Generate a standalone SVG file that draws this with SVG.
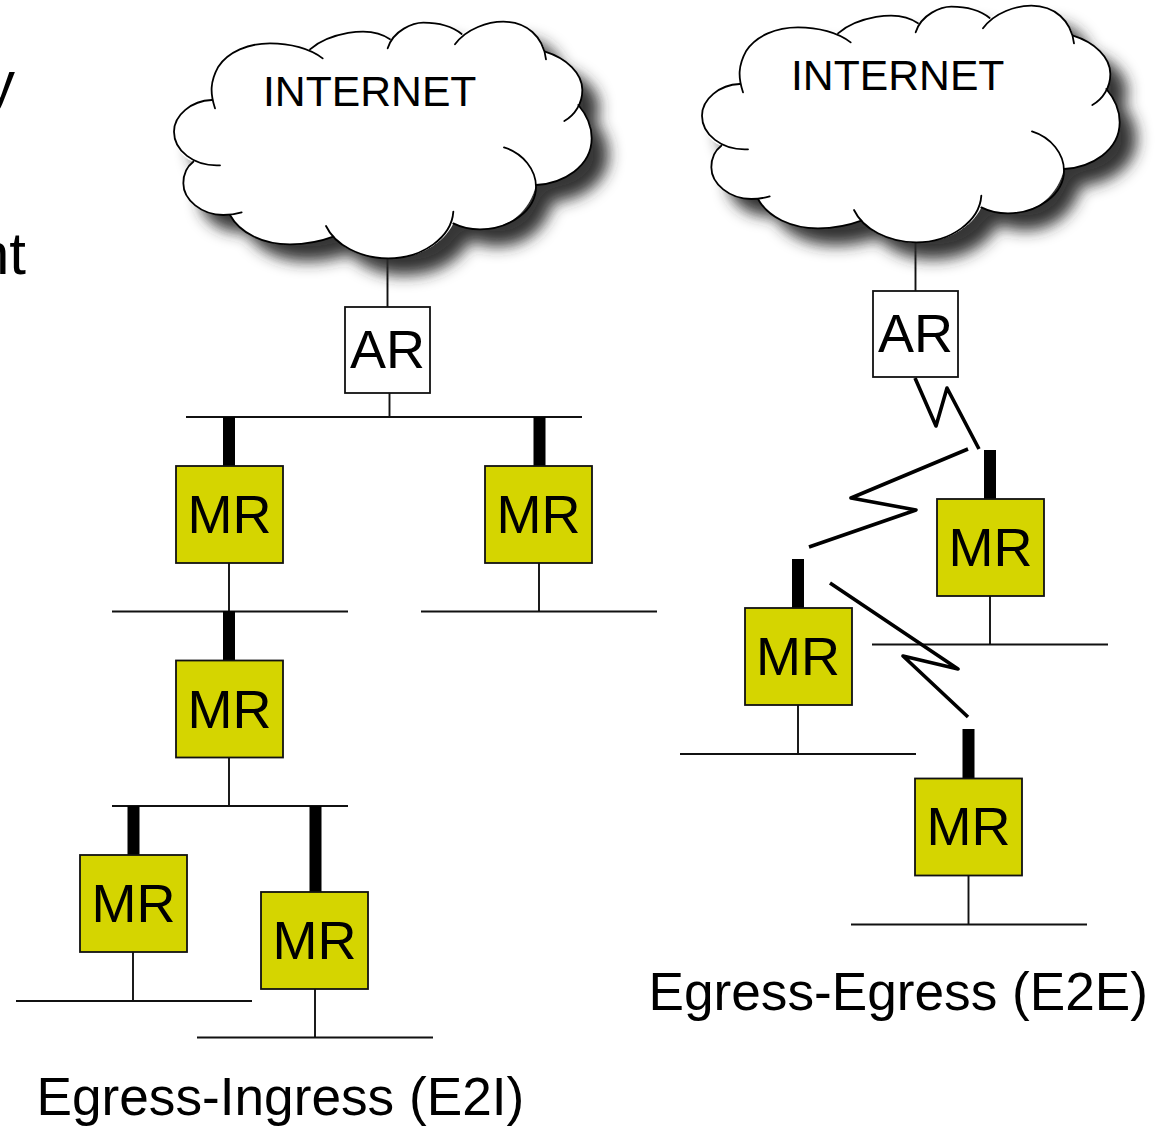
<svg xmlns="http://www.w3.org/2000/svg" width="1167" height="1126" viewBox="0 0 1167 1126">
<style>
text{font-family:"Liberation Sans",Arial,sans-serif;fill:#000}
.big{font-size:53.200px}
.cut{font-size:60px}
.cl{font-size:42.700px}
.box{font-size:54px;text-anchor:middle}
.mr{fill:#d5d500;stroke:#111;stroke-width:1.8}
.ar{fill:#fff;stroke:#111;stroke-width:1.8}
.thin{stroke:#111;stroke-width:1.9;fill:none}
.thick{stroke:#000;stroke-width:12;fill:none}
.zig{stroke:#000;stroke-width:3.600;fill:none;stroke-linejoin:round}
.co{fill:#fff;stroke:none}
.in{fill:none;stroke:#000;stroke-width:5.400;stroke-linecap:round}
</style>
<defs>
<filter id="sh" filterUnits="userSpaceOnUse" x="-80" y="-80" width="1650" height="1050">
<feGaussianBlur in="SourceAlpha" stdDeviation="22" result="b"/>
<feOffset in="b" dx="50" dy="50" result="o"/>
<feFlood flood-color="#2a2a2a" flood-opacity="0.95"/>
<feComposite in2="o" operator="in" result="s"/>
<feMerge><feMergeNode in="s"/><feMergeNode in="SourceGraphic"/></feMerge>
</filter>
<g id="cloud" transform="translate(160 10) scale(0.33333)">
<path class="co" filter="url(#sh)" d="M155 272C150 240 155 210 175 170C205 125 265 100 330 100C380 100 425 108 450 118C500 75 625 40 690 88C715 55 760 38 790 38C840 38 880 52 905 72C945 45 985 35 1030 35C1095 35 1145 75 1155 125C1220 145 1267 190 1267 240C1267 258 1263 272 1255 285C1285 320 1295 350 1295 385C1295 470 1210 520 1128 525C1110 600 1050 658 960 658C930 658 900 650 880 640C850 700 780 745 685 745C610 745 550 715 520 680C480 695 430 703 390 703C310 703 240 670 210 615C205 615 195 615 190 615C125 615 70 570 70 520C70 495 80 470 100 455C60 440 42 400 42 365C42 315 95 272 155 270Z"/>
<path class="in" d="M165 295C150 250 150 215 175 170C205 125 265 100 330 100C390 100 450 115 488 145"/>
<path class="in" d="M450 118C500 75 625 40 690 88"/>
<path class="in" d="M683 115C700 60 760 38 790 38C840 38 880 52 905 72"/>
<path class="in" d="M885 103C920 55 985 35 1030 35C1100 35 1150 80 1158 148"/>
<path class="in" d="M1155 125C1220 145 1267 190 1267 240C1267 280 1245 315 1213 333"/>
<path class="in" d="M1255 285C1285 320 1295 350 1295 385C1295 470 1210 520 1128 525"/>
<path class="in" d="M1032 412C1090 430 1128 480 1128 530C1128 600 1050 658 960 658C930 658 900 650 880 640"/>
<path class="in" d="M880 605C875 680 790 745 685 745C600 745 525 705 498 648"/>
<path class="in" d="M520 680C480 695 430 703 390 703C310 703 240 670 210 615"/>
<path class="in" d="M245 607C225 613 205 615 190 615C125 615 70 570 70 520C70 495 80 470 100 455"/>
<path class="in" d="M180 466C100 470 42 420 42 365C42 315 95 272 155 270"/>
</g>
</defs>
<rect width="1167" height="1126" fill="#fff"/>
<text class="cut" x="-15" y="103">y</text>
<text class="cut" x="26" y="274" text-anchor="end">nt</text>
<g id="connectors">
<path class="thin" d="M387.500 258V307M389.500 393V417M186 417H582M229 563V611.500M112 611.500H348M539 563V611.500M421 611.500H657M229 757V806M112 806H348M133 952V1001M16 1001H252M315 989V1037.500M197 1037.500H433"/>
<path class="thick" d="M229 417V466M539.500 417V466M229 611V660M133.500 806V855M315.500 806V892"/>
<path class="thin" d="M915.500 242V291M990 596V644.500M872 644.500H1108M798 705V754M680 754H916M968.500 875V924.500M851 924.500H1087"/>
<path class="thick" d="M990 450V499M798 559V608M968.500 729V778"/>
<path class="zig" d="M915 378L936 426L947 388L979 449M968 449L851 498L916 510L809 547M830 583L958 669L903 656L968 717"/>
</g>
<g id="cloud-left"><use href="#cloud"/><text class="cl" x="263" y="105.500">INTERNET</text></g>
<g id="cloud-right"><use href="#cloud" transform="translate(528 -16)"/><text class="cl" x="791" y="89.500">INTERNET</text></g>
<g id="ar-left"><rect class="ar" x="345" y="307" width="85" height="86"/><text class="box" x="387.500" y="368">AR</text></g>
<g id="ar-right"><rect class="ar" x="873" y="291" width="85" height="86"/><text class="box" x="915.500" y="352">AR</text></g>
<g id="mr1"><rect class="mr" x="176" y="466" width="107" height="97"/><text class="box" x="229.500" y="533">MR</text></g>
<g id="mr2"><rect class="mr" x="485" y="466" width="107" height="97"/><text class="box" x="538.500" y="533">MR</text></g>
<g id="mr3"><rect class="mr" x="176" y="660.500" width="107" height="97"/><text class="box" x="229.500" y="727.500">MR</text></g>
<g id="mr4"><rect class="mr" x="80" y="855" width="107" height="97"/><text class="box" x="133.500" y="922">MR</text></g>
<g id="mr5"><rect class="mr" x="261" y="892" width="107" height="97"/><text class="box" x="314.500" y="958.500">MR</text></g>
<g id="mr6"><rect class="mr" x="937" y="499" width="107" height="97"/><text class="box" x="990.500" y="565.500">MR</text></g>
<g id="mr7"><rect class="mr" x="745" y="608" width="107" height="97"/><text class="box" x="798" y="674.500">MR</text></g>
<g id="mr8"><rect class="mr" x="915" y="778.500" width="107" height="97"/><text class="box" x="968.500" y="845">MR</text></g>
<text class="big" x="36.500" y="1115">Egress-Ingress (E2I)</text>
<text class="big" x="648.500" y="1010">Egress-Egress (E2E)</text>
</svg>
